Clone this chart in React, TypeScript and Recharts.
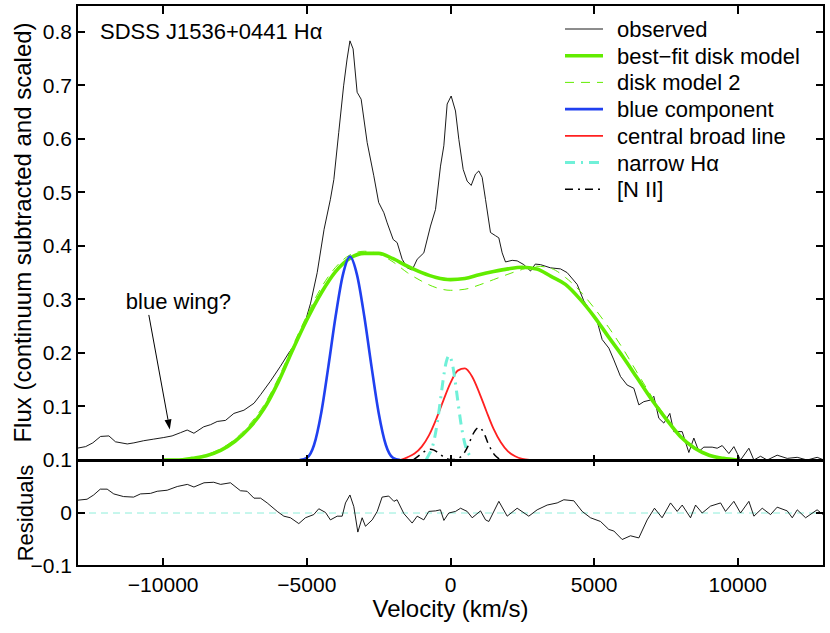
import React from 'react';
import { LineChart, Line, XAxis, YAxis, ReferenceLine, Legend } from 'recharts';

const FONT = '"Liberation Sans", Arial, Helvetica, sans-serif';

// ---------- axis ranges and ticks ----------
const velDomain = [-13000, 13000];
const fluxDomain = [0, 0.85];
const resDomain = [-0.1, 0.1];
const xTicks = [-10000, -5000, 0, 5000, 10000];
const fluxTicks = [0.1, 0.2, 0.3, 0.4, 0.5, 0.6, 0.7, 0.8];
const residTicks = [-0.1, 0, 0.1];

// ---------- observed spectrum ----------
const obsVel = [
  -13000, -12700, -12450, -12180, -11890, -11660, -11250, -11020, -10680, -10330,
  -9980, -9690, -9400, -9165, -8930, -8590, -8350, -8120, -7830, -7540,
  -7190, -6840, -6610, -6270, -5920, -5630, -5340, -5100, -4870, -4640,
  -4400, -4180, -4060, -3890, -3720, -3600, -3500, -3390, -3250, -3110,
  -2900, -2670, -2500, -2320, -2204, -1995, -1856, -1682, -1508, -1334,
  -1160, -928, -696, -522, -348, -232, -116, 23, 174, 290,
  441, 580, 720, 870, 986, 1102, 1218, 1392, 1566, 1682,
  1798, 1914, 2146, 2320, 2552, 2785, 2950, 3133, 3481, 3829,
  4061, 4409, 4641, 4873, 5105, 5279, 5511, 5685, 5917, 6149,
  6381, 6555, 6729, 6961, 7077, 7251, 7425, 7634, 7773, 8064,
  8296, 8470, 8644, 8818, 9108, 9283, 9457, 9689, 9863, 10095,
  10385, 10559, 10790, 11023, 11370, 11720, 12067, 12415, 12763, 13000,
];
const obsFlux = [
  0.022, 0.025, 0.032, 0.044, 0.045, 0.034, 0.030, 0.032, 0.036, 0.039,
  0.042, 0.045, 0.051, 0.056, 0.050, 0.062, 0.066, 0.072, 0.074, 0.087,
  0.093, 0.106, 0.122, 0.147, 0.175, 0.200, 0.222, 0.250, 0.293, 0.350,
  0.431, 0.487, 0.524, 0.612, 0.699, 0.749, 0.783, 0.768, 0.687, 0.674,
  0.593, 0.531, 0.481, 0.462, 0.443, 0.412, 0.406, 0.375, 0.359, 0.355,
  0.375, 0.387, 0.437, 0.468, 0.549, 0.587, 0.665, 0.680, 0.652, 0.599,
  0.543, 0.521, 0.513, 0.534, 0.540, 0.528, 0.487, 0.425, 0.419, 0.415,
  0.387, 0.370, 0.373, 0.372, 0.365, 0.353, 0.366, 0.365, 0.359, 0.357,
  0.350, 0.328, 0.297, 0.278, 0.259, 0.225, 0.209, 0.187, 0.156, 0.140,
  0.134, 0.103, 0.109, 0.112, 0.119, 0.078, 0.069, 0.087, 0.053, 0.053,
  0.014, 0.041, 0.016, 0.024, 0.024, 0.022, 0.027, 0.012, 0.025, 0.000,
  0.022, 0.000, 0.007, 0.000, 0.009, 0.003, 0.005, 0.000, 0.005, 0.000,
];

// ---------- disk models ----------
const diskVel = [
  -10000, -9500, -9000, -8500, -8000, -7500, -7000, -6500, -6000, -5500,
  -5000, -4500, -4000, -3500, -3000, -2500, -2000, -1500, -1000, -500,
  0, 500, 1000, 1500, 2000, 2500, 3000, 3500, 4000, 4500,
  5000, 5500, 6000, 6500, 7000, 7500, 8000, 8500, 9000, 9500, 10000,
];
const bestFitFlux = [
  0.000, 0.000, 0.003, 0.008, 0.018, 0.035, 0.060, 0.095, 0.145, 0.205,
  0.262, 0.312, 0.352, 0.377, 0.386, 0.386, 0.376, 0.362, 0.350, 0.341,
  0.337, 0.339, 0.346, 0.352, 0.357, 0.360, 0.357, 0.343, 0.328, 0.301,
  0.268, 0.230, 0.193, 0.153, 0.113, 0.077, 0.044, 0.022, 0.009, 0.003, 0.000,
];
const disk2Flux = [
  0.000, 0.001, 0.004, 0.010, 0.021, 0.039, 0.066, 0.102, 0.152, 0.212,
  0.270, 0.322, 0.360, 0.383, 0.390, 0.385, 0.370, 0.350, 0.334, 0.322,
  0.317, 0.319, 0.327, 0.337, 0.347, 0.356, 0.362, 0.358, 0.341, 0.316,
  0.284, 0.248, 0.208, 0.163, 0.119, 0.080, 0.046, 0.022, 0.009, 0.003, 0.000,
];

// ---------- blue component ----------
const blueVel = [
  -5250, -5000, -4750, -4500, -4250, -4000, -3750, -3500, -3250, -3000,
  -2750, -2500, -2250, -2000, -1750,
];
const blueFlux = [
  0.000, 0.004, 0.028, 0.088, 0.175, 0.268, 0.345, 0.380, 0.345, 0.268,
  0.175, 0.088, 0.028, 0.004, 0.000,
];

// ---------- central broad line ----------
const centralVel = [
  -1750, -1500, -1250, -1000, -750, -500, -250, 0, 250, 500,
  750, 1000, 1250, 1500, 1750, 2000, 2250, 2500, 2750,
];
const centralFlux = [
  0.000, 0.005, 0.012, 0.025, 0.046, 0.076, 0.111, 0.144, 0.167, 0.171,
  0.156, 0.126, 0.091, 0.058, 0.033, 0.016, 0.007, 0.002, 0.000,
];

// ---------- narrow H-alpha ----------
const narrowVel = [
  -850, -750, -650, -550, -450, -350, -250, -150, -50, 50,
  150, 250, 350, 450, 550, 650, 750,
];
const narrowFlux = [
  0.000, 0.010, 0.021, 0.042, 0.073, 0.112, 0.152, 0.183, 0.195, 0.183,
  0.152, 0.112, 0.073, 0.042, 0.021, 0.010, 0.000,
];

// ---------- [N II] doublet ----------
const niiVel = [
  -1300, -1200, -1100, -1000, -900, -800, -700, -600, -500, -400,
  -300, -200, -100, 0, 100, 200, 300, 400, 500, 600,
  700, 800, 900, 1000, 1100, 1200, 1300, 1400, 1500, 1600, 1700, 1800,
];
const niiFlux = [
  0.000, 0.004, 0.008, 0.012, 0.016, 0.019, 0.020, 0.019, 0.016, 0.012,
  0.008, 0.004, 0.002, 0.001, 0.001, 0.001, 0.004, 0.008, 0.015, 0.025,
  0.038, 0.050, 0.058, 0.061, 0.056, 0.046, 0.032, 0.021, 0.012, 0.006, 0.002, 0.000,
];

// ---------- residuals ----------
const resVel = [
  -13000, -12650, -12420, -12190, -11950, -11720, -11380, -11030, -10790, -10440,
  -10210, -9860, -9510, -9160, -8930, -8580, -8240, -8000, -7660, -7310,
  -7080, -6840, -6610, -6380, -6030, -5800, -5570, -5280, -5050, -4760,
  -4585, -4350, -4180, -3945, -3770, -3655, -3500, -3365, -3225, -3075,
  -2960, -2725, -2550, -2380, -2150, -1970, -1860, -1625, -1335, -1160,
  -930, -755, -520, -350, -230, -60, 175, 350, 580, 755,
  1045, 1220, 1335, 1683, 1973, 2320, 2725, 3016, 3365, 3713,
  3945, 4293, 4583, 4873, 5221, 5510, 5686, 5975, 6265, 6555,
  6845, 7100, 7365, 7658, 7890, 8065, 8354, 8530, 8760, 9050,
  9400, 9572, 9863, 10095, 10385, 10560, 10850, 11140, 11370, 11720,
  11895, 12070, 12360, 12760, 12970,
];
const resVal = [
  0.024, 0.026, 0.034, 0.045, 0.045, 0.036, 0.031, 0.030, 0.036, 0.037,
  0.041, 0.043, 0.050, 0.054, 0.049, 0.057, 0.058, 0.054, 0.057, 0.042,
  0.041, 0.028, 0.028, 0.019, 0.003, -0.006, -0.009, -0.020, -0.009, -0.003,
  0.008, 0.001, -0.013, -0.006, -0.006, 0.019, 0.034, 0.012, -0.036, -0.009,
  -0.025, -0.013, 0.003, 0.030, 0.032, 0.022, 0.025, -0.001, -0.019, -0.006,
  -0.013, 0.003, 0.004, 0.006, -0.014, 0.000, 0.003, 0.009, 0.003, -0.009,
  0.004, -0.013, -0.016, 0.022, -0.006, 0.009, -0.006, 0.006, 0.015, 0.019,
  0.025, 0.023, 0.003, -0.009, -0.016, -0.031, -0.034, -0.050, -0.043, -0.047,
  -0.013, 0.009, -0.009, 0.019, 0.003, 0.015, -0.009, 0.015, 0.000, 0.013,
  0.019, 0.003, 0.022, 0.000, 0.022, -0.006, 0.009, -0.003, 0.011, 0.004,
  -0.009, 0.006, -0.009, 0.006, -0.003,
];

// ---------- annotation (data coordinates) ----------
const arrowSegment = [
  { x: -10500, y: 0.271 },
  { x: -9770, y: 0.057 },
];
const titleText = 'SDSS J1536+0441 H\u03b1';
const annotationText = 'blue wing?';

const toPoints = (vs: number[], ys: number[]) => vs.map((v, i) => ({ v, y: ys[i] }));

const observed = toPoints(obsVel, obsFlux);
const bestFit = toPoints(diskVel, bestFitFlux);
const disk2 = toPoints(diskVel, disk2Flux);
const blue = toPoints(blueVel, blueFlux);
const central = toPoints(centralVel, centralFlux);
const narrow = toPoints(narrowVel, narrowFlux);
const nii = toPoints(niiVel, niiFlux);
const residuals = toPoints(resVel, resVal);

const GREEN = '#62EC00';

const seriesStyles = [
  { name: 'observed', data: observed, stroke: '#000', width: 0.9, dash: undefined as string | undefined, type: 'linear' },
  { name: 'best\u2212fit disk model', data: bestFit, stroke: GREEN, width: 3.6, dash: undefined, type: 'monotone' },
  { name: 'disk model 2', data: disk2, stroke: GREEN, width: 1, dash: '9 7', type: 'monotone' },
  { name: 'blue component', data: blue, stroke: '#2040F0', width: 2.6, dash: undefined, type: 'monotone' },
  { name: 'central broad line', data: central, stroke: '#FF2020', width: 1.8, dash: undefined, type: 'monotone' },
  { name: 'narrow H\u03b1', data: narrow, stroke: '#70F0D8', width: 3, dash: '10 6 2 6', type: 'monotone' },
  { name: '[N II]', data: nii, stroke: '#000', width: 1.5, dash: '8 5 2 5', type: 'monotone' },
];

const fmt = (v: number) => (v < 0 ? '\u2212' + String(Math.abs(v)) : String(v));

const tickStyle = { fontSize: 21, fill: '#000', fontFamily: FONT };

// ---------- layout of the two panels (pixels) ----------
const W = 830;
const PLOT_L = 77;
const PLOT_R = 824;
const TOP_T = 5;
const MID = 460;
const RES_B = 566;

// linear maps matching the charts' axes, used only for the frame tick marks
const px = (v: number) => PLOT_L + ((v - velDomain[0]) / (velDomain[1] - velDomain[0])) * (PLOT_R - PLOT_L);
const pyTop = (f: number) => MID - ((f - fluxDomain[0]) / (fluxDomain[1] - fluxDomain[0])) * (MID - TOP_T);
const pyRes = (r: number) => RES_B - ((r - resDomain[0]) / (resDomain[1] - resDomain[0])) * (RES_B - MID);

const bar = (left: number, top: number, width: number, height: number, key: string) => (
  <div key={key} style={{ position: 'absolute', left, top, width, height, background: '#000' }} />
);

function Frame() {
  const t = 2; // line thickness
  const h = t / 2;
  const items: React.ReactNode[] = [];
  // outer frame
  items.push(bar(PLOT_L - h, TOP_T - h, PLOT_R - PLOT_L + t, t, 'top'));
  items.push(bar(PLOT_L - h, RES_B - h, PLOT_R - PLOT_L + t, t, 'bottom'));
  items.push(bar(PLOT_L - h, TOP_T - h, t, RES_B - TOP_T + t, 'left'));
  items.push(bar(PLOT_R - h, TOP_T - h, t, RES_B - TOP_T + t, 'right'));
  items.push(bar(PLOT_L - h, MID - 1.5, PLOT_R - PLOT_L + t, 3, 'mid'));
  xTicks.forEach((v) => {
    items.push(bar(px(v) - h, TOP_T, t, 9, 'xt' + v));
    items.push(bar(px(v) - h, MID - 5, t, 11, 'xm' + v));
    items.push(bar(px(v) - h, RES_B - 8, t, 8, 'xb' + v));
  });
  fluxTicks.forEach((f) => {
    items.push(bar(PLOT_L, pyTop(f) - h, 8, t, 'fl' + f));
    items.push(bar(PLOT_R - 8, pyTop(f) - h, 8, t, 'fr' + f));
  });
  residTicks.forEach((r) => {
    items.push(bar(PLOT_L, pyRes(r) - h, 8, t, 'rl' + r));
    items.push(bar(PLOT_R - 8, pyRes(r) - h, 8, t, 'rr' + r));
  });
  return <div style={{ position: 'absolute', left: 0, top: 0, width: W, height: 633, pointerEvents: 'none' }}>{items}</div>;
}

function LegendBox() {
  return (
    <svg width={830} height={460} style={{ position: 'absolute', left: 0, top: 0, pointerEvents: 'none' }}>
      <text x={100} y={39} fontSize={22} fontFamily={FONT} fill="#000">
        {titleText}
      </text>
      {seriesStyles.map((s, i) => {
        const y = 29 + i * 26.7;
        return (
          <g key={s.name}>
            <line x1={565} x2={603} y1={y} y2={y} stroke={s.stroke} strokeWidth={s.width} strokeDasharray={s.dash} />
            <text x={617} y={y + 8} fontSize={22} fontFamily={FONT} fill="#000">
              {s.name}
            </text>
          </g>
        );
      })}
    </svg>
  );
}

const ArrowShape = (p: any) => {
  const { x1, y1, x2, y2 } = p;
  const dx = x2 - x1;
  const dy = y2 - y1;
  const L = Math.hypot(dx, dy) || 1;
  const ux = dx / L;
  const uy = dy / L;
  const hl = 10;
  const hw = 3.5;
  const bx = x2 - ux * hl;
  const by = y2 - uy * hl;
  return (
    <g>
      <line x1={x1} y1={y1} x2={bx} y2={by} stroke="#000" strokeWidth={1} />
      <polygon points={`${x2},${y2} ${bx - uy * hw},${by + ux * hw} ${bx + uy * hw},${by - ux * hw}`} fill="#000" />
      <text x={x1 - 23} y={y1 - 6} fontSize={22} fontFamily={FONT} fill="#000">
        {annotationText}
      </text>
    </g>
  );
};

export default function App() {
  return (
    <div style={{ position: 'absolute', left: 0, top: 0, width: W, height: 633, background: '#fff', fontFamily: FONT }}>
      <div style={{ position: 'absolute', left: 0, top: 0 }}>
        <LineChart width={W} height={MID} margin={{ top: TOP_T, right: W - PLOT_R, bottom: 0, left: 0 }}>
          <XAxis xAxisId="b" type="number" dataKey="v" domain={velDomain} allowDataOverflow ticks={xTicks}
            tick={false} axisLine={false} tickLine={false} height={0} />
          <YAxis yAxisId="l" type="number" domain={fluxDomain} allowDataOverflow ticks={fluxTicks} width={PLOT_L}
            tickSize={-8} tickMargin={13} tick={tickStyle} axisLine={false} tickLine={false}
            label={{ value: 'Flux (continuum subtracted and scaled)', angle: -90, position: 'insideLeft', offset: 22,
              style: { textAnchor: 'middle', fontSize: 24, fill: '#000', fontFamily: FONT } }} />
          {seriesStyles.map((s) => (
            <Line key={s.name} xAxisId="b" yAxisId="l" data={s.data} dataKey="y" type={s.type as any}
              stroke={s.stroke} strokeWidth={s.width} strokeDasharray={s.dash} dot={false}
              activeDot={false} isAnimationActive={false} />
          ))}
          <ReferenceLine xAxisId="b" yAxisId="l" segment={arrowSegment} shape={ArrowShape} ifOverflow="visible" />
          <Legend layout="horizontal" align="center" verticalAlign="middle" content={() => <LegendBox />}
            wrapperStyle={{ position: 'absolute', left: 0, top: 0, width: 830, height: 460, pointerEvents: 'none' }} />
        </LineChart>
      </div>
      <div style={{ position: 'absolute', left: 0, top: MID - 20 }}>
        <LineChart width={W} height={633 - MID + 20} margin={{ top: 20, right: W - PLOT_R, bottom: 0, left: 0 }}>
          <XAxis xAxisId="b" type="number" dataKey="v" domain={velDomain} allowDataOverflow ticks={xTicks}
            tickSize={-8} tickMargin={19} height={633 - RES_B} tick={tickStyle} tickFormatter={fmt} axisLine={false} tickLine={false}
            label={{ value: 'Velocity (km/s)', position: 'insideBottom', offset: 16,
              style: { fontSize: 24, fill: '#000', fontFamily: FONT } }} />
          <YAxis yAxisId="l" type="number" domain={resDomain} allowDataOverflow ticks={residTicks} width={PLOT_L}
            tickSize={-8} tickMargin={13} tick={tickStyle} tickFormatter={fmt} axisLine={false} tickLine={false}
            label={{ value: 'Residuals', angle: -90, position: 'insideLeft', offset: 25,
              style: { textAnchor: 'middle', fontSize: 22, fill: '#000', fontFamily: FONT } }} />
          <ReferenceLine xAxisId="b" yAxisId="l" y={0} stroke="#8EEEDA" strokeWidth={1} strokeDasharray="7 5" />
          <Line xAxisId="b" yAxisId="l" data={residuals} dataKey="y" type="linear" stroke="#000" strokeWidth={0.9}
            dot={false} activeDot={false} isAnimationActive={false} />
        </LineChart>
      </div>
      <Frame />
    </div>
  );
}
